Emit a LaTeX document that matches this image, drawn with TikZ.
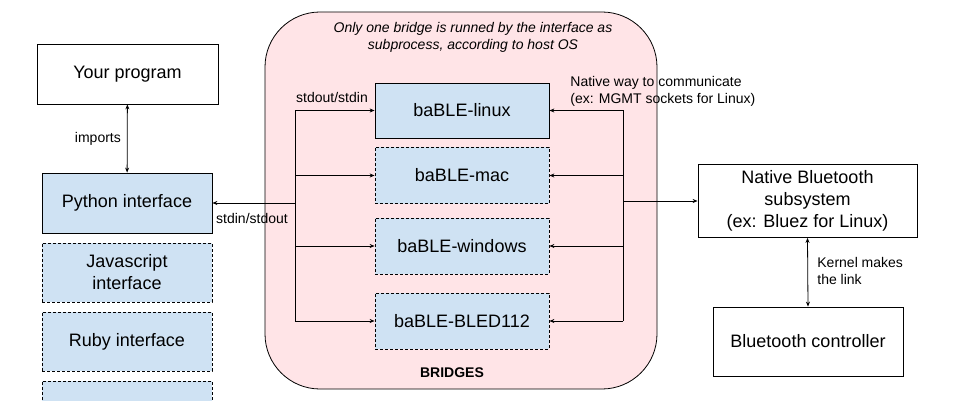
\documentclass[tikz,border=0pt]{standalone}
\usepackage{fontspec}
\setmainfont{Liberation Sans}
\definecolor{bblue}{RGB}{207,226,243}
\definecolor{bpink}{RGB}{255,228,231}
\usetikzlibrary{arrows.meta,positioning}

\begin{document}
\begin{tikzpicture}[x=1pt, y=-1pt, line width=0.8pt,
  every node/.style={font=\fontsize{18}{22}\selectfont, align=center, inner sep=0pt},
  lbl/.style={font=\fontsize{14}{17}\selectfont},
  box/.style={draw, rectangle},
  iface/.style={box, fill=bblue, minimum width=170pt, minimum height=59pt},
  bridge/.style={box, fill=bblue, minimum width=174pt, minimum height=55pt},
  opt/.style={dashed, dash pattern=on 3pt off 2pt},
  arr/.style={-{Stealth[length=5pt,width=4pt]}},
  darr/.style={{Stealth[length=5pt,width=4pt]}-{Stealth[length=5pt,width=4pt]}}]
\useasboundingbox (0,0) rectangle (975,401);
\clip (0,0) rectangle (975,401);
% Bridges area
\draw[fill=bpink, rounded corners=55pt] (265,12) rectangle (657,389);
\node[lbl, font=\fontsize{14}{17}\selectfont\itshape] (note) at (473,37) {Only one bridge is runned by the interface as\\subprocess, according to host OS};
\node[lbl, font=\fontsize{14}{17}\selectfont\bfseries] (brlbl) at (452,373) {BRIDGES};
% Program and interfaces
\node[box, minimum width=181pt, minimum height=60pt] (prog) at (127.5,74) {Your program};
\node[iface, minimum height=60pt] (python) at (127,203) {Python interface};
\node[iface, opt] (js) at (127,272.5) {Javascript\\interface};
\node[iface, opt] (ruby) at (127,341.5) {Ruby interface};
\node[iface, opt] (other) at (127,410.5) {};
\draw[darr] (prog) -- (python) node[lbl, midway, left=6pt] (imports) {imports};
% Bridges
\node[bridge] (linux) at (462,110.5) {baBLE-linux};
\foreach \b/\y/\t in {mac/175.5/baBLE-mac, windows/246/baBLE-windows, bled/321/baBLE-BLED112} {
  \node[bridge, opt, minimum height=56pt] (\b) at (462,\y) {\t};
}
% Native side
\node[box, minimum width=219pt, minimum height=73pt] (native) at (807.5,201) {Native Bluetooth\\subsystem\\(ex: Bluez for Linux)};
\node[box, minimum width=190pt, minimum height=69pt] (ctrl) at (808,341.5) {Bluetooth controller};
\draw[darr] (native.south) -- (ctrl.north);
\node[lbl, anchor=west, align=left] (kernel) at (817,271) {Kernel makes\\the link};
% Left bus (stdin/stdout)
\coordinate (lb) at (295,203);
\draw[arr] (lb) -- (python.east);
\draw (lb |- linux) -- (lb |- bled);
\foreach \b in {linux,mac,windows,bled} {
  \draw[arr] (lb |- \b) -- (\b.west);
}
\node[lbl] (sout) at (332,97) {stdout/stdin};
\node[lbl] (sin) at (252,218) {stdin/stdout};
% Right bus (native way)
\coordinate (rb) at (623,201);
\draw[arr] (rb) -- (native.west);
\draw (rb |- linux) -- (rb |- bled);
\foreach \b in {linux,mac,windows,bled} {
  \draw[arr] (rb |- \b) -- (\b.east);
}
\node[lbl, anchor=west, align=left] (nway) at (570,91) {Native way to communicate\\(ex: MGMT sockets for Linux)};
\end{tikzpicture}
\end{document}
